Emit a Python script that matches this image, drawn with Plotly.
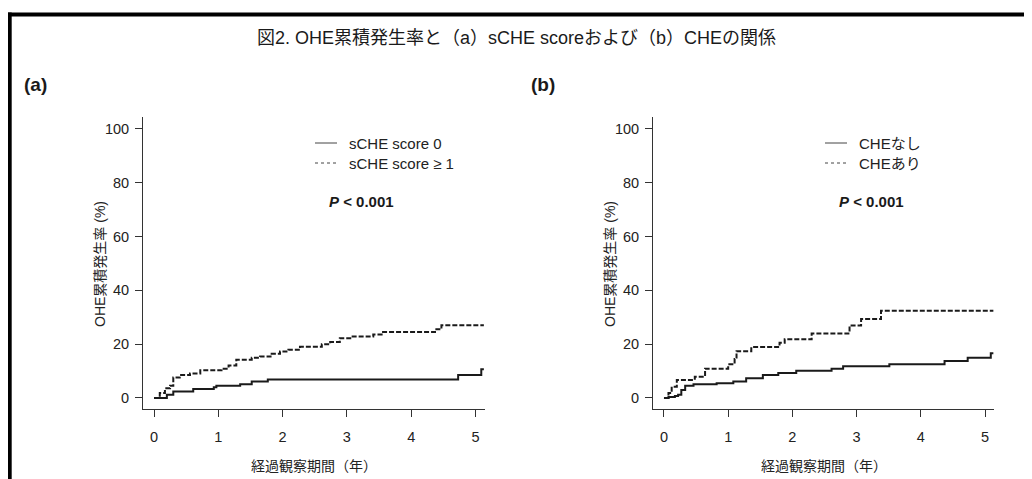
import plotly.graph_objects as go

# ---------------- data ----------------
a_t0 = [0, 0.2, 0.3, 0.61, 0.93, 0.97, 1.34, 1.52, 1.77, 4.73, 5.09, 5.13]
a_y0 = [0, 1.2, 2.4, 3.3, 4.0, 4.5, 5.1, 6.1, 6.9, 8.5, 10.7, 10.7]

a_t1 = [0, 0.09, 0.17, 0.25, 0.3, 0.4, 0.56, 0.72, 1.05, 1.16, 1.28, 1.52, 1.65, 1.83,
        1.96, 2.09, 2.27, 2.61, 2.74, 2.89, 3.07, 3.41, 3.54, 4.37, 4.47, 5.13]
a_y1 = [0, 1.8, 3.6, 4.5, 7.6, 8.5, 9.1, 10.3, 10.9, 12.1, 14.2, 14.9, 15.4, 16.4,
        17.3, 17.9, 19.0, 20.0, 20.8, 22.2, 22.8, 23.6, 24.5, 25.5, 27.0, 27.0]

b_t0 = [0, 0.07, 0.17, 0.22, 0.27, 0.33, 0.46, 0.82, 1.08, 1.28, 1.54, 1.78, 2.06, 2.61,
        2.79, 3.51, 4.37, 4.73, 5.09, 5.13]
b_y0 = [0, 0.4, 0.7, 1.2, 3.0, 4.5, 5.1, 5.5, 6.1, 7.3, 8.5, 9.3, 10.1, 10.9,
        11.8, 12.5, 13.7, 14.9, 16.6, 16.6]

b_t1 = [0, 0.07, 0.12, 0.2, 0.48, 0.64, 1.0, 1.1, 1.13, 1.36, 1.80, 1.88, 2.30, 2.89,
        3.07, 3.38, 5.13]
b_y1 = [0, 1.8, 4.2, 6.7, 7.9, 10.9, 12.5, 14.5, 17.4, 18.9, 20.5, 21.8, 24.0, 26.9,
        29.3, 32.4, 32.4]

x_ticks = [0, 1, 2, 3, 4, 5]
y_ticks = [0, 20, 40, 60, 80, 100]

title_text = "図2. OHE累積発生率と（a）sCHE scoreおよび（b）CHEの関係"
panel_labels = ["(a)", "(b)"]
legend_a = ["sCHE score 0", "sCHE score ≥ 1"]
legend_b = ["CHEなし", "CHEあり"]
p_text = "<b><i>P</i> < 0.001</b>"
x_title = "経過観察期間（年）"
y_title = "OHE累積発生率 (%)"

# ---------------- layout helpers ----------------
# page body has an 8px margin: screen coordinate = figure coordinate + 8
OFF = 8
W, H = 1024, 471
ML, MR, MT, MB = 135, 38, 109, 70
PW, PH = W - ML - MR, H - MT - MB


def px(sx):
    return (sx - OFF - ML) / PW


def py(sy):
    return (OFF + MT + PH - sy) / PH


FONT = "Liberation Sans, Arial, Noto Sans CJK JP, sans-serif"
INK = "#1a1a1a"
AX = "#333333"
TXT = "#222222"

fig = go.Figure()

line_solid = dict(color=INK, width=2, shape="hv")
line_dash = dict(color=INK, width=2, shape="hv", dash="5px,2px")

fig.add_trace(go.Scatter(x=a_t0, y=a_y0, mode="lines", line=line_solid,
                         xaxis="x", yaxis="y", name=legend_a[0], showlegend=False))
fig.add_trace(go.Scatter(x=a_t1, y=a_y1, mode="lines", line=line_dash,
                         xaxis="x", yaxis="y", name=legend_a[1], showlegend=False))
fig.add_trace(go.Scatter(x=b_t0, y=b_y0, mode="lines", line=line_solid,
                         xaxis="x2", yaxis="y2", name=legend_b[0], showlegend=False))
fig.add_trace(go.Scatter(x=b_t1, y=b_y1, mode="lines", line=line_dash,
                         xaxis="x2", yaxis="y2", name=legend_b[1], showlegend=False))

xr = [-0.171, 5.14]
yr = [-4.1, 104.4]

common_x = dict(range=xr, tickvals=x_ticks, showline=True, linecolor=AX, linewidth=1,
                ticks="outside", ticklen=7, tickcolor=AX, tickwidth=1,
                showgrid=False, zeroline=False, ticklabelstandoff=8,
                tickfont=dict(family=FONT, size=14.5, color=TXT))
common_y = dict(range=yr, tickvals=y_ticks, showline=True, linecolor=AX, linewidth=1,
                ticks="outside", ticklen=7, tickcolor=AX, tickwidth=1,
                showgrid=False, zeroline=False, ticklabelstandoff=3,
                tickfont=dict(family=FONT, size=14.5, color=TXT))

fig.update_layout(
    width=W, height=H,
    margin=dict(l=ML, r=MR, t=MT, b=MB),
    paper_bgcolor="white", plot_bgcolor="white",
    xaxis=dict(domain=[0, px(484.5)], anchor="y", **common_x),
    yaxis=dict(domain=[0, 1], anchor="x", **common_y),
    xaxis2=dict(domain=[px(653), 1], anchor="y2", **common_x),
    yaxis2=dict(domain=[0, 1], anchor="x2", **common_y),
    showlegend=False,
)

# ---------------- frame ----------------
shapes = [
    dict(type="line", xref="paper", yref="paper", x0=px(8), x1=px(W + OFF + 2),
         y0=py(14.5), y1=py(14.5), line=dict(color="black", width=4)),
    dict(type="line", xref="paper", yref="paper", x0=px(9.7), x1=px(9.7),
         y0=py(12.5), y1=py(H + OFF + 2), line=dict(color="black", width=4)),
]

annotations = [dict(text=title_text, xref="paper", yref="paper", x=px(516), y=py(38),
                    showarrow=False, xanchor="center", yanchor="middle",
                    font=dict(family=FONT, size=18, color=INK))]

# per-panel decorations: (panel label, label x, y-title x, x-title x, legend labels, legend x, P x)
panels = [
    (panel_labels[0], 22, 100, 314, legend_a, 315, 361),
    (panel_labels[1], 529, 610, 824, legend_b, 825, 871),
]
for lab, labx, ytx, xtx, leg, lx, ptx in panels:
    annotations.append(dict(text="<b>" + lab + "</b>", xref="paper", yref="paper",
                            x=px(labx), y=py(84), showarrow=False, xanchor="left",
                            yanchor="middle", font=dict(family=FONT, size=19, color=INK)))
    annotations.append(dict(text=y_title, xref="paper", yref="paper", x=px(ytx), y=py(264),
                            showarrow=False, xanchor="center", yanchor="middle",
                            textangle=-90, font=dict(family=FONT, size=14, color=TXT)))
    annotations.append(dict(text=x_title, xref="paper", yref="paper", x=px(xtx), y=py(466),
                            showarrow=False, xanchor="center", yanchor="middle",
                            font=dict(family=FONT, size=14, color=TXT)))
    for i, (txt, dash) in enumerate(zip(leg, ["solid", "3px,3px"])):
        yy = 143 + 20 * i
        shapes.append(dict(type="line", xref="paper", yref="paper",
                           x0=px(lx), x1=px(lx + 22), y0=py(yy), y1=py(yy),
                           line=dict(color="#444", width=1, dash=dash)))
        annotations.append(dict(text=txt, xref="paper", yref="paper", x=px(lx + 32),
                                y=py(yy), showarrow=False, xanchor="left",
                                yanchor="middle", font=dict(family=FONT, size=15, color=TXT)))
    annotations.append(dict(text=p_text, xref="paper", yref="paper", x=px(ptx), y=py(201),
                            showarrow=False, xanchor="center", yanchor="middle",
                            font=dict(family=FONT, size=15, color=INK)))

fig.update_layout(shapes=shapes, annotations=annotations)

fig.write_html("out.html")
